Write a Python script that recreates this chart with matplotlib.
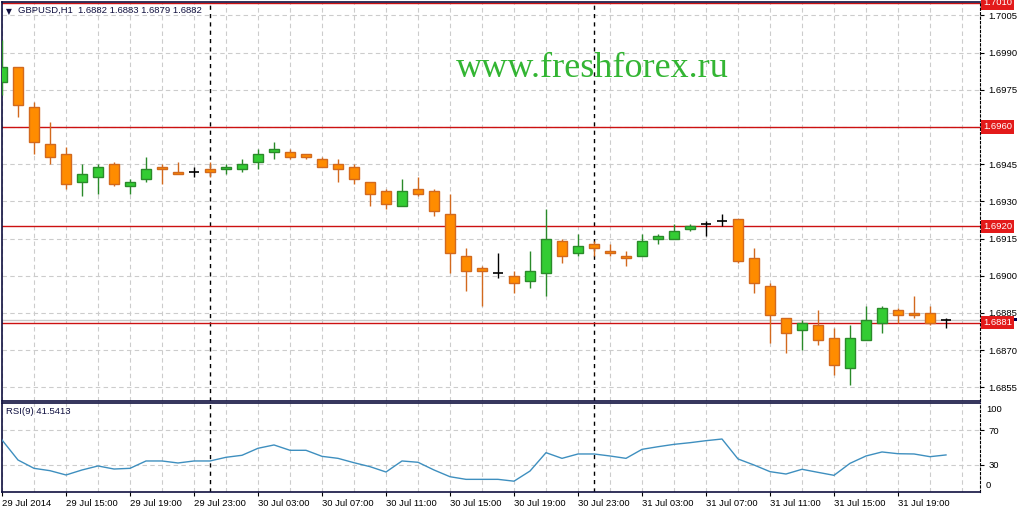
import numpy as np
import matplotlib.pyplot as plt
from matplotlib.patches import Rectangle

plt.rcParams['font.family'] = ['Liberation Sans', 'DejaVu Sans']

# hourly GBPUSD bars, first bar = 29 Jul 2014 11:00
opens = [1.6978, 1.6984, 1.6968, 1.6953, 1.6949, 1.6938, 1.6940, 1.6945, 1.6936, 1.6939,
         1.6944, 1.6942, 1.6942, 1.6943, 1.6943, 1.6943, 1.6946, 1.6950, 1.6950, 1.6949,
         1.6947, 1.6945, 1.6944, 1.6938, 1.6934, 1.6928, 1.6935, 1.6934, 1.6925, 1.6908,
         1.6903, 1.6901, 1.6900, 1.6898, 1.6901, 1.6914, 1.6909, 1.6913, 1.6910, 1.6908,
         1.6908, 1.6915, 1.6915, 1.6919, 1.6921, 1.6922, 1.6923, 1.6907, 1.6896, 1.6883,
         1.6878, 1.6880, 1.6875, 1.6863, 1.6874, 1.6881, 1.6886, 1.6885, 1.6885, 1.6882]
highs = [1.6995, 1.6984, 1.6970, 1.6962, 1.6952, 1.6945, 1.6945, 1.6946, 1.6939, 1.6948,
         1.6945, 1.6946, 1.6944, 1.6946, 1.6945, 1.6947, 1.6951, 1.6954, 1.6951, 1.6949,
         1.6948, 1.6947, 1.6945, 1.6938, 1.6935, 1.6939, 1.6940, 1.6935, 1.6933, 1.6911,
         1.6904, 1.6909, 1.6902, 1.6910, 1.6927, 1.6915, 1.6917, 1.6914, 1.6913, 1.6910,
         1.6917, 1.6917, 1.6921, 1.6921, 1.6922, 1.6925, 1.6923, 1.6911, 1.6897, 1.6883,
         1.6882, 1.6886, 1.6879, 1.6880, 1.6888, 1.6888, 1.6887, 1.6892, 1.6888, 1.6883]
lows = [1.6973, 1.6964, 1.6949, 1.6945, 1.6935, 1.6932, 1.6933, 1.6936, 1.6933, 1.6938,
        1.6937, 1.6941, 1.6940, 1.6940, 1.6941, 1.6942, 1.6943, 1.6947, 1.6947, 1.6947,
        1.6944, 1.6938, 1.6937, 1.6928, 1.6927, 1.6928, 1.6932, 1.6924, 1.6901, 1.6894,
        1.6888, 1.6899, 1.6893, 1.6895, 1.6892, 1.6905, 1.6908, 1.6908, 1.6908, 1.6904,
        1.6908, 1.6913, 1.6915, 1.6918, 1.6916, 1.6920, 1.6905, 1.6893, 1.6873, 1.6869,
        1.6870, 1.6872, 1.6860, 1.6856, 1.6874, 1.6877, 1.6881, 1.6883, 1.6880, 1.6879]
closes = [1.6984, 1.6969, 1.6954, 1.6948, 1.6937, 1.6941, 1.6944, 1.6937, 1.6938, 1.6943,
          1.6943, 1.6941, 1.6942, 1.6942, 1.6944, 1.6945, 1.6949, 1.6951, 1.6948, 1.6948,
          1.6944, 1.6943, 1.6939, 1.6933, 1.6929, 1.6934, 1.6933, 1.6926, 1.6909, 1.6902,
          1.6902, 1.6901, 1.6897, 1.6902, 1.6915, 1.6908, 1.6912, 1.6911, 1.6909, 1.6907,
          1.6914, 1.6916, 1.6918, 1.6920, 1.6921, 1.6922, 1.6906, 1.6897, 1.6884, 1.6877,
          1.6881, 1.6874, 1.6864, 1.6875, 1.6882, 1.6887, 1.6884, 1.6884, 1.6881, 1.6882]
rsi = [58.6, 35.7, 26.2, 23.5, 18.6, 24.3, 28.9, 25.4, 26.2, 34.6,
       34.6, 32.3, 34.6, 34.6, 38.8, 41.1, 49.1, 52.9, 46.8, 46.8,
       39.9, 37.6, 32.6, 28.1, 22.0, 34.6, 33.1, 24.3, 16.6, 13.6,
       13.6, 13.6, 11.5, 23.1, 44.1, 37.6, 42.6, 42.6, 40.3, 37.6,
       47.9, 50.9, 53.6, 55.5, 57.8, 59.7, 36.9, 30.0, 22.4, 19.7,
       25.1, 21.6, 18.2, 31.9, 40.3, 44.9, 42.9, 42.6, 39.5, 41.5]
time_labels = ["29 Jul 2014", "29 Jul 15:00", "29 Jul 19:00", "29 Jul 23:00",
               "30 Jul 03:00", "30 Jul 07:00", "30 Jul 11:00", "30 Jul 15:00",
               "30 Jul 19:00", "30 Jul 23:00", "31 Jul 03:00", "31 Jul 07:00",
               "31 Jul 11:00", "31 Jul 15:00", "31 Jul 19:00"]
day_starts = [13, 37]
levels = [1.7010, 1.6960, 1.6920, 1.6881]
bid = 1.6882
price_ticks = [1.6855, 1.6870, 1.6885, 1.6900, 1.6915, 1.6930, 1.6945,
               1.6960, 1.6975, 1.6990, 1.7005]

W, H = 1023, 513
fig = plt.figure(figsize=(W / 100, H / 100), dpi=100)
fig.patch.set_facecolor('white')


def px_axes(x0, y0, x1, y1):
    return fig.add_axes([x0 / W, 1 - y1 / H, (x1 - x0) / W, (y1 - y0) / H])


ax = px_axes(2, 2, 980, 401)
ax2 = px_axes(2, 403, 980, 492)

navy = '#101040'
grid_kw = dict(color='#cccccc', lw=0.8, ls=(0, (4, 3)), zorder=0)

o = np.array(opens); h = np.array(highs); l = np.array(lows); c = np.array(closes)
x = np.arange(len(o))
up = c > o
dn = c < o
dj = c == o

for a in (ax, ax2):
    a.set_xlim(0, 61.125)
    for gx in range(0, 62, 2):
        a.axvline(gx, **grid_kw)
    for d in day_starts:
        a.axvline(d, color='black', lw=1, ls=(0, (3, 3)), zorder=1)
    for s in ('left', 'top', 'bottom'):
        a.spines[s].set_color(navy)
        a.spines[s].set_linewidth(1.2)
    a.spines['right'].set_color('black')
    a.spines['right'].set_linestyle((0, (2, 2)))
    a.yaxis.tick_right()

ax.set_ylim(1.68495, 1.70104)
for p in price_ticks:
    ax.axhline(p, **grid_kw)

# bid line and levels
ax.axhline(bid, color='#c8c8c8', lw=1, zorder=1)
for lv in levels:
    ax.axhline(lv, color='#cc1111', lw=1, zorder=2)

# candles
up_fill, up_edge = '#33cc33', '#2a8a2a'
dn_fill, dn_edge = '#ff8c00', '#d2691e'
ax.vlines(x[up], l[up], h[up], color=up_edge, lw=1, zorder=3)
ax.vlines(x[dn], l[dn], h[dn], color=dn_edge, lw=1, zorder=3)
ax.vlines(x[dj], l[dj], h[dj], color='black', lw=1, zorder=3)
ax.bar(x[up], np.maximum(c[up] - o[up], 0.00005), bottom=o[up], width=0.62,
       color=up_fill, edgecolor=up_edge, lw=1, zorder=4)
ax.bar(x[dn], np.maximum(o[dn] - c[dn], 0.00005), bottom=c[dn], width=0.62,
       color=dn_fill, edgecolor=dn_edge, lw=1, zorder=4)
ax.hlines(c[dj], x[dj] - 0.34, x[dj] + 0.34, color='black', lw=1.2, zorder=4)

# right price scale; 1.6960 is shown by its level box instead
ax.set_xticks([])
ax.set_yticks(price_ticks)
ax.set_yticklabels(['' if any(abs(p - lv) < 1e-6 for lv in levels) else f"{p:.4f}"
                    for p in price_ticks])
ax.tick_params(axis='y', length=3, pad=3, labelsize=6.8, colors='black')

# bid marker (mostly hidden behind the 1.6881 box)
ax.add_patch(Rectangle((1.002, bid - 0.00003), 0.036, 0.00013, transform=ax.get_yaxis_transform(),
                       fc='#000050', ec='none', clip_on=False, zorder=5))
for lv in levels:
    ax.annotate(f"{lv:.4f}", xy=(1.003, lv), xycoords=ax.get_yaxis_transform(),
                va='center', ha='left', fontsize=6.8, color='white', zorder=6,
                annotation_clip=False,
                bbox=dict(boxstyle='square,pad=0.22', fc='#e31a1a', ec='none'))

ax.text(0.004, 0.988, "\u25bc", transform=ax.transAxes, va='top', ha='left',
        fontsize=5.5, color=navy, family=['DejaVu Sans'])
ax.text(0.016, 0.99, "GBPUSD,H1  1.6882 1.6883 1.6879 1.6882", transform=ax.transAxes,
        va='top', ha='left', fontsize=6.8, color=navy)
ax.text(0.604, 0.812, "www.freshforex.ru", transform=ax.transAxes, va='baseline',
        ha='center', fontsize=26, color='#33b533', family=['Liberation Serif'])

# RSI panel
ax2.set_ylim(-0.86, 100.86)
for g in (30, 70):
    ax2.axhline(g, **grid_kw)
ax2.plot(x, rsi, color='#3e8fbf', lw=1, zorder=3)
ax2.set_yticks([30, 70])
ax2.set_yticklabels(['30', '70'])
ax2.tick_params(axis='y', length=3, pad=3, labelsize=6.8, colors='black')
ax2.text(1.006, 94, '100', transform=ax2.get_yaxis_transform(), va='center', ha='left', fontsize=6.8)
ax2.text(1.006, 7, '0', transform=ax2.get_yaxis_transform(), va='center', ha='left', fontsize=6.8)
ax2.text(0.004, 0.95, "RSI(9) 41.5413", transform=ax2.transAxes, va='top', ha='left',
         fontsize=6.8, color=navy)

ax2.set_xticks(np.arange(0, 4 * len(time_labels), 4))
ax2.set_xticklabels(time_labels)
for lbl in ax2.get_xticklabels():
    lbl.set_horizontalalignment('left')
ax2.tick_params(axis='x', length=3, pad=2, labelsize=6.8, colors='black')

fig.savefig('out.png', dpi=100)
